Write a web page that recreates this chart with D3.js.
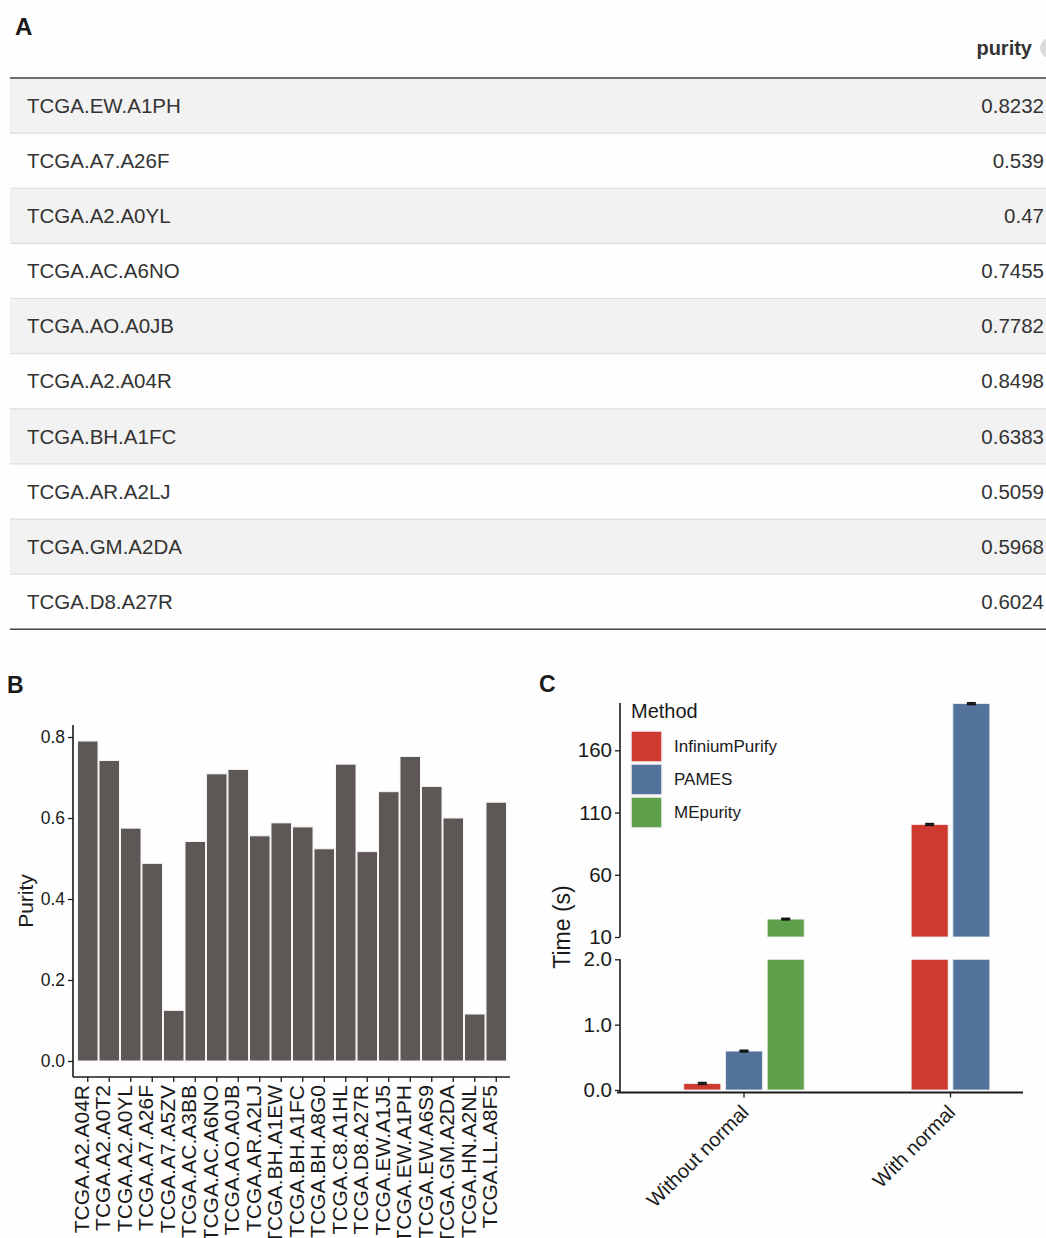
<!DOCTYPE html>
<html>
<head>
<meta charset="utf-8">
<script src="https://cdn.jsdelivr.net/npm/d3@7/dist/d3.min.js"></script>
<style>
  html, body { margin: 0; padding: 0; background: #fefefe; }
  svg { display: block; font-family: "Liberation Sans", Arial, Helvetica, sans-serif; }
</style>
</head>
<body>
<svg id="fig" width="1046" height="1238"></svg>
<script>
// ---- Panel A: purity table ----
const tableSamples = ["TCGA.EW.A1PH", "TCGA.A7.A26F", "TCGA.A2.A0YL", "TCGA.AC.A6NO", "TCGA.AO.A0JB",
                      "TCGA.A2.A04R", "TCGA.BH.A1FC", "TCGA.AR.A2LJ", "TCGA.GM.A2DA", "TCGA.D8.A27R"];
const tablePurity = [0.8232, 0.539, 0.47, 0.7455, 0.7782, 0.8498, 0.6383, 0.5059, 0.5968, 0.6024];

// ---- Panel B: per-sample purity ----
const barSamples = ["TCGA.A2.A04R", "TCGA.A2.A0T2", "TCGA.A2.A0YL", "TCGA.A7.A26F", "TCGA.A7.A5ZV",
                    "TCGA.AC.A3BB", "TCGA.AC.A6NO", "TCGA.AO.A0JB", "TCGA.AR.A2LJ", "TCGA.BH.A1EW",
                    "TCGA.BH.A1FC", "TCGA.BH.A8G0", "TCGA.C8.A1HL", "TCGA.D8.A27R", "TCGA.EW.A1J5",
                    "TCGA.EW.A1PH", "TCGA.EW.A6S9", "TCGA.GM.A2DA", "TCGA.HN.A2NL", "TCGA.LL.A8F5"];
const barPurity = [0.790, 0.742, 0.575, 0.488, 0.125, 0.542, 0.709, 0.720, 0.556, 0.588,
                   0.578, 0.524, 0.733, 0.517, 0.665, 0.752, 0.678, 0.600, 0.116, 0.639];
const purityTicks = [0.0, 0.2, 0.4, 0.6, 0.8];

// ---- Panel C: running time ----
const methods = ["InfiniumPurify", "PAMES", "MEpurity"];
const methodColors = ["#cf3a30", "#53739c", "#5fa04b"];
const conditions = ["Without normal", "With normal"];
const timeWithoutNormal = [0.10, 0.596, 24.4];   // seconds
const sdWithoutNormal   = [0.012, 0.010, 0.5];
const timeWithNormal    = [100.4, 197.5];        // MEpurity not run with normal
const sdWithNormal      = [0.6, 0.6];
const lowerTicks = [0.0, 1.0, 2.0];
const upperTicks = [10, 60, 110, 160];

const svg = d3.select("#fig");
const ink = "#1a1a1a";

// ================= Panel A =================
const tA = { left: 10, right: 1046, headerLine: 78, rowH: 55.13 };
svg.append("text").attr("x", 15).attr("y", 35)
  .attr("font-size", 24).attr("font-weight", "bold").attr("fill", ink).text("A");

const rowY = d3.scaleBand().domain(d3.range(tableSamples.length))
  .range([tA.headerLine, tA.headerLine + tA.rowH * tableSamples.length]).padding(0);

const rows = svg.append("g").selectAll("g").data(tableSamples).join("g")
  .attr("transform", (d, i) => `translate(0,${rowY(i)})`);
rows.append("rect").attr("x", tA.left).attr("width", tA.right - tA.left)
  .attr("height", rowY.bandwidth())
  .attr("fill", (d, i) => i % 2 === 0 ? "#f3f2f2" : "#fefefe");
rows.filter((d, i) => i > 0).append("line")
  .attr("x1", tA.left).attr("x2", tA.right).attr("y1", 0).attr("y2", 0)
  .attr("stroke", "#e0dddd").attr("stroke-width", 1.2);
rows.append("text").attr("x", 27).attr("y", rowY.bandwidth() / 2)
  .attr("dy", "0.35em").attr("font-size", 20.5).attr("fill", "#333").text(d => d);
rows.append("text").attr("x", 1044).attr("y", rowY.bandwidth() / 2)
  .attr("dy", "0.35em").attr("text-anchor", "end").attr("font-size", 20.5).attr("fill", "#333")
  .text((d, i) => String(tablePurity[i]));

// header
svg.append("text").attr("x", 1032).attr("y", 55).attr("text-anchor", "end")
  .attr("font-size", 20).attr("font-weight", "bold").attr("fill", "#333").text("purity");
svg.append("circle").attr("cx", 1050).attr("cy", 48).attr("r", 10).attr("fill", "#dcdcdc");
svg.append("line").attr("x1", tA.left).attr("x2", tA.right)
  .attr("y1", tA.headerLine).attr("y2", tA.headerLine)
  .attr("stroke", "#6e6e6e").attr("stroke-width", 2.2);
const tableBottom = tA.headerLine + tA.rowH * tableSamples.length;
svg.append("line").attr("x1", tA.left).attr("x2", tA.right)
  .attr("y1", tableBottom).attr("y2", tableBottom)
  .attr("stroke", "#444").attr("stroke-width", 1.6);

// ================= Panel B =================
svg.append("text").attr("x", 7).attr("y", 693)
  .attr("font-size", 23).attr("font-weight", "bold").attr("fill", ink).text("B");

const bx = d3.scaleBand().domain(barSamples).range([77, 507]).padding(0);
const by = d3.scaleLinear().domain([0, 0.8]).range([1061, 737]);
const bAxisX = 73, bAxisY = 1077, bTop = 725, bRight = 510;

svg.append("g").selectAll("rect").data(barSamples).join("rect")
  .attr("x", d => bx(d) + 0.5)
  .attr("width", bx.bandwidth() - 1)
  .attr("y", (d, i) => by(barPurity[i]))
  .attr("height", (d, i) => by(0) - by(barPurity[i]))
  .attr("fill", "#5d5755").attr("stroke", "#f4f4f4").attr("stroke-width", 1);

// y axis
const gby = svg.append("g").attr("transform", `translate(${bAxisX},0)`)
  .call(d3.axisLeft(by).tickValues(purityTicks).tickFormat(d3.format(".1f")).tickSize(5).tickPadding(3));
gby.select(".domain").remove();
gby.selectAll(".tick line").attr("stroke", ink).attr("stroke-width", 1.3);
gby.selectAll(".tick text").attr("font-size", 17.5).attr("fill", ink).attr("font-family", null);
svg.append("line").attr("x1", bAxisX).attr("x2", bAxisX).attr("y1", bTop).attr("y2", bAxisY)
  .attr("stroke", ink).attr("stroke-width", 1.6);

// x axis
svg.append("line").attr("x1", bAxisX).attr("x2", bRight).attr("y1", bAxisY).attr("y2", bAxisY)
  .attr("stroke", ink).attr("stroke-width", 1.6);
const bTicks = svg.append("g").selectAll("g").data(barSamples).join("g")
  .attr("transform", d => `translate(${bx(d) + bx.bandwidth() / 2},${bAxisY})`);
bTicks.append("line").attr("y1", 0).attr("y2", 5).attr("stroke", ink).attr("stroke-width", 1.3);
bTicks.append("text").attr("transform", "translate(1,8) rotate(-90)")
  .attr("text-anchor", "end").attr("font-size", 21).attr("fill", ink).text(d => d);

svg.append("text").attr("transform", `translate(33,${(bTop + bAxisY) / 2}) rotate(-90)`)
  .attr("text-anchor", "middle").attr("font-size", 21).attr("fill", ink).text("Purity");

// ================= Panel C =================
svg.append("text").attr("x", 539).attr("y", 692)
  .attr("font-size", 23).attr("font-weight", "bold").attr("fill", ink).text("C");

const cAxisX = 620, cAxisY = 1092.5, cLeft = 617, cRight = 1023;
const yLow = d3.scaleLinear().domain([0, 2]).range([1090, 959.3]);
const yUp = d3.scaleLinear().domain([10, 198]).range([937, 703]);
const cx = d3.scalePoint().domain(conditions).range([744, 950.5]);
const slot = 41.7, barW = 37;

// flatten bars: one record per method per condition
const cBars = [];
timeWithoutNormal.forEach((v, i) => cBars.push({ cond: conditions[0], m: i, v, sd: sdWithoutNormal[i], n: timeWithoutNormal.length, k: i }));
timeWithNormal.forEach((v, i) => cBars.push({ cond: conditions[1], m: i, v, sd: sdWithNormal[i], n: timeWithNormal.length, k: i }));
const barCenter = d => cx(d.cond) + (d.k - (d.n - 1) / 2) * slot;

const gC = svg.append("g");
// lower segment (0 - 2 s)
gC.selectAll("rect.low").data(cBars).join("rect").attr("class", "low")
  .attr("x", d => barCenter(d) - barW / 2).attr("width", barW)
  .attr("y", d => yLow(Math.min(d.v, 2))).attr("height", d => yLow(0) - yLow(Math.min(d.v, 2)))
  .attr("fill", d => methodColors[d.m]).attr("stroke", "#f2f2f2").attr("stroke-width", 0.8);
// upper segment (10 s and above)
const upBars = cBars.filter(d => d.v > 10);
gC.selectAll("rect.up").data(upBars).join("rect").attr("class", "up")
  .attr("x", d => barCenter(d) - barW / 2).attr("width", barW)
  .attr("y", d => yUp(d.v)).attr("height", d => yUp(10) - yUp(d.v))
  .attr("fill", d => methodColors[d.m]).attr("stroke", "#f2f2f2").attr("stroke-width", 0.8);

// error bars
const errY = d => d.v > 10 ? yUp : yLow;
const eb = gC.selectAll("g.eb").data(cBars.filter(d => d.v <= 2 || d.v > 10)).join("g").attr("class", "eb");
eb.append("line").attr("x1", barCenter).attr("x2", barCenter)
  .attr("y1", d => errY(d)(d.v - d.sd)).attr("y2", d => errY(d)(d.v + d.sd))
  .attr("stroke", "#111").attr("stroke-width", 1.5);
[-1, 1].forEach(s => {
  eb.append("line").attr("x1", d => barCenter(d) - 4.5).attr("x2", d => barCenter(d) + 4.5)
    .attr("y1", d => errY(d)(d.v + s * d.sd)).attr("y2", d => errY(d)(d.v + s * d.sd))
    .attr("stroke", "#111").attr("stroke-width", 1.8);
});

// y axes (broken)
function styleAxis(g) {
  g.select(".domain").remove();
  g.selectAll(".tick line").attr("stroke", ink).attr("stroke-width", 1.3);
  g.selectAll(".tick text").attr("font-size", 20.5).attr("fill", ink).attr("font-family", null);
}
svg.append("g").attr("transform", `translate(${cAxisX},0)`)
  .call(d3.axisLeft(yLow).tickValues(lowerTicks).tickFormat(d3.format(".1f")).tickSize(5).tickPadding(3))
  .call(styleAxis);
svg.append("g").attr("transform", `translate(${cAxisX},0)`)
  .call(d3.axisLeft(yUp).tickValues(upperTicks).tickFormat(d3.format("d")).tickSize(5).tickPadding(3))
  .call(styleAxis);
svg.append("line").attr("x1", cAxisX).attr("x2", cAxisX).attr("y1", yLow(2)).attr("y2", cAxisY)
  .attr("stroke", ink).attr("stroke-width", 1.6);
svg.append("line").attr("x1", cAxisX).attr("x2", cAxisX).attr("y1", yUp(198)).attr("y2", yUp(10))
  .attr("stroke", ink).attr("stroke-width", 1.6);

// x axis
svg.append("line").attr("x1", cLeft).attr("x2", cRight).attr("y1", cAxisY).attr("y2", cAxisY)
  .attr("stroke", ink).attr("stroke-width", 1.8);
const cTicks = svg.append("g").selectAll("g").data(conditions).join("g")
  .attr("transform", d => `translate(${cx(d)},${cAxisY})`);
cTicks.append("line").attr("y1", 0).attr("y2", 5).attr("stroke", ink).attr("stroke-width", 1.3);
cTicks.append("text").attr("transform", "translate(6,21) rotate(-45)")
  .attr("text-anchor", "end").attr("font-size", 20).attr("fill", ink).text(d => d);

svg.append("text").attr("transform", `translate(570,927) rotate(-90)`)
  .attr("text-anchor", "middle").attr("font-size", 23).attr("fill", ink).text("Time (s)");

// legend
const leg = svg.append("g").attr("transform", "translate(631,0)");
leg.append("text").attr("x", 0).attr("y", 718).attr("font-size", 20).attr("fill", ink).text("Method");
const legItems = leg.selectAll("g").data(methods).join("g")
  .attr("transform", (d, i) => `translate(0,${731 + i * 33})`);
legItems.append("rect").attr("width", 31).attr("height", 31)
  .attr("fill", (d, i) => methodColors[i]).attr("stroke", "#f4f4f4").attr("stroke-width", 1.5);
legItems.append("text").attr("x", 43).attr("y", 15.5).attr("dy", "0.35em")
  .attr("font-size", 17).attr("fill", ink).text(d => d);
</script>
</body>
</html>
